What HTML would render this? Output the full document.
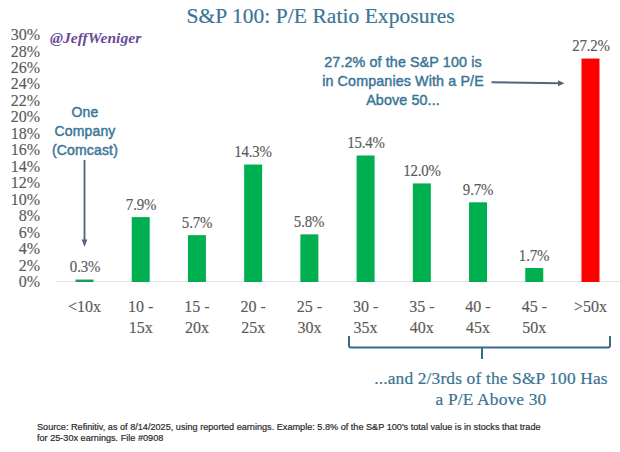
<!DOCTYPE html>
<html><head><meta charset="utf-8"><style>
*{margin:0;padding:0;box-sizing:border-box}
html,body{width:620px;height:452px;background:#fff;overflow:hidden}
body{position:relative;font-family:"Liberation Serif",serif}
.t{position:absolute;white-space:nowrap}
.title{position:absolute;left:186.5px;top:2.5px;font-size:21.5px;letter-spacing:0.05px;color:#3a7696;-webkit-text-stroke:0.2px #3a7696;white-space:nowrap;line-height:26px}
.yl{position:absolute;left:0;width:40px;text-align:right;font-size:16px;line-height:18px;color:#5a5a5a;-webkit-text-stroke:0.15px #5a5a5a}
.dl{position:absolute;width:80px;text-align:center;font-size:16px;line-height:18px;letter-spacing:-0.2px;transform:scaleX(0.93);color:#5a5a5a;-webkit-text-stroke:0.15px #5a5a5a}
.cl{position:absolute;width:80px;text-align:center;font-size:16px;line-height:21px;color:#5a5a5a;-webkit-text-stroke:0.15px #5a5a5a}
.jw{position:absolute;left:50px;top:28.7px;font-size:15.6px;font-weight:bold;font-style:italic;color:#694b97;white-space:nowrap}
.ann{position:absolute;font-family:"Liberation Sans",sans-serif;color:#3a7597;text-align:center;white-space:nowrap}
.src{position:absolute;left:37px;top:422px;font-family:"Liberation Sans",sans-serif;font-size:9.15px;line-height:11px;color:#2a2a2a;-webkit-text-stroke:0.2px #2a2a2a;white-space:nowrap}
svg{position:absolute;left:0;top:0}
</style></head><body>
<svg width="620" height="452" viewBox="0 0 620 452">
<line x1="56" y1="281.5" x2="620" y2="281.5" stroke="#e4e4e4" stroke-width="1"/>
<rect x="75.50" y="279.54" width="18" height="2.46" fill="#1c9c5a"/><rect x="131.72" y="217.10" width="18" height="64.90" fill="#00B050"/><rect x="187.94" y="235.17" width="18" height="46.83" fill="#00B050"/><rect x="244.16" y="164.53" width="18" height="117.47" fill="#00B050"/><rect x="300.38" y="234.35" width="18" height="47.65" fill="#00B050"/><rect x="356.60" y="155.49" width="18" height="126.51" fill="#00B050"/><rect x="412.82" y="183.42" width="18" height="98.58" fill="#00B050"/><rect x="469.04" y="202.31" width="18" height="79.69" fill="#00B050"/><rect x="525.26" y="268.03" width="18" height="13.97" fill="#00B050"/><rect x="581.48" y="58.55" width="18" height="223.45" fill="#FF0000"/>
<line x1="84.5" y1="160" x2="84.5" y2="240" stroke="#56657d" stroke-width="1.9"/>
<path d="M81.7 239.5 L84.5 247 L87.3 239.5 Z" fill="#56657d"/>
<line x1="491.5" y1="82.3" x2="559" y2="83.2" stroke="#56657d" stroke-width="1.9"/>
<path d="M558 80.3 L564.5 83.3 L558 86.2 Z" fill="#56657d"/>
<path d="M349 336 L349 345.5 Q349 347.5 351 347.5 L608 347.5 Q610 347.5 610 345.5 L610 336 M482 347.5 L482 359" fill="none" stroke="#356b88" stroke-width="2"/>
</svg>
<div class="title">S&amp;P 100: P/E Ratio Exposures</div>
<div class="jw">@JeffWeniger</div>
<div class="yl" style="top:273.0px">0%</div><div class="yl" style="top:256.5px">2%</div><div class="yl" style="top:240.1px">4%</div><div class="yl" style="top:223.6px">6%</div><div class="yl" style="top:207.1px">8%</div><div class="yl" style="top:190.7px">10%</div><div class="yl" style="top:174.2px">12%</div><div class="yl" style="top:157.7px">14%</div><div class="yl" style="top:141.3px">16%</div><div class="yl" style="top:124.8px">18%</div><div class="yl" style="top:108.3px">20%</div><div class="yl" style="top:91.9px">22%</div><div class="yl" style="top:75.4px">24%</div><div class="yl" style="top:58.9px">26%</div><div class="yl" style="top:42.5px">28%</div><div class="yl" style="top:26.0px">30%</div><div class="dl" style="left:44.5px;top:258.0px">0.3%</div><div class="cl" style="left:44.5px;top:296px">&lt;10x<br></div><div class="dl" style="left:100.7px;top:195.6px">7.9%</div><div class="cl" style="left:100.7px;top:296px">10 -<br>15x</div><div class="dl" style="left:156.9px;top:213.7px">5.7%</div><div class="cl" style="left:156.9px;top:296px">15 -<br>20x</div><div class="dl" style="left:213.2px;top:143.0px">14.3%</div><div class="cl" style="left:213.2px;top:296px">20 -<br>25x</div><div class="dl" style="left:269.4px;top:212.9px">5.8%</div><div class="cl" style="left:269.4px;top:296px">25 -<br>30x</div><div class="dl" style="left:325.6px;top:134.0px">15.4%</div><div class="cl" style="left:325.6px;top:296px">30 -<br>35x</div><div class="dl" style="left:381.8px;top:161.9px">12.0%</div><div class="cl" style="left:381.8px;top:296px">35 -<br>40x</div><div class="dl" style="left:438.0px;top:180.8px">9.7%</div><div class="cl" style="left:438.0px;top:296px">40 -<br>45x</div><div class="dl" style="left:494.3px;top:246.5px">1.7%</div><div class="cl" style="left:494.3px;top:296px">45 -<br>50x</div><div class="dl" style="left:550.5px;top:37.1px">27.2%</div><div class="cl" style="left:550.5px;top:296px">&gt;50x<br></div>
<div class="ann" style="left:45px;top:103px;width:80px;font-size:14px;-webkit-text-stroke:0.45px #3a7597;letter-spacing:0.15px;line-height:19px">One<br>Company<br>(Comcast)</div>
<div class="ann" style="left:303px;top:52.6px;width:200px;font-size:14.3px;-webkit-text-stroke:0.45px #3a7597;letter-spacing:0.12px;line-height:19.3px">27.2% of the S&amp;P 100 is<br>in Companies With a P/E<br>Above 50...</div>
<div class="ann" style="left:371px;top:367.5px;width:240px;font-family:'Liberation Serif',serif;font-size:17.4px;letter-spacing:0.15px;line-height:21px;color:#3a7393;-webkit-text-stroke:0.2px #3a7393">...and 2/3rds of the S&amp;P 100 Has<br>a P/E Above 30</div>
<div class="src">Source: Refinitiv, as of 8/14/2025, using reported earnings. Example: 5.8% of the S&amp;P 100's total value is in stocks that trade<br>for 25-30x earnings. File #0908</div>
</body></html>
